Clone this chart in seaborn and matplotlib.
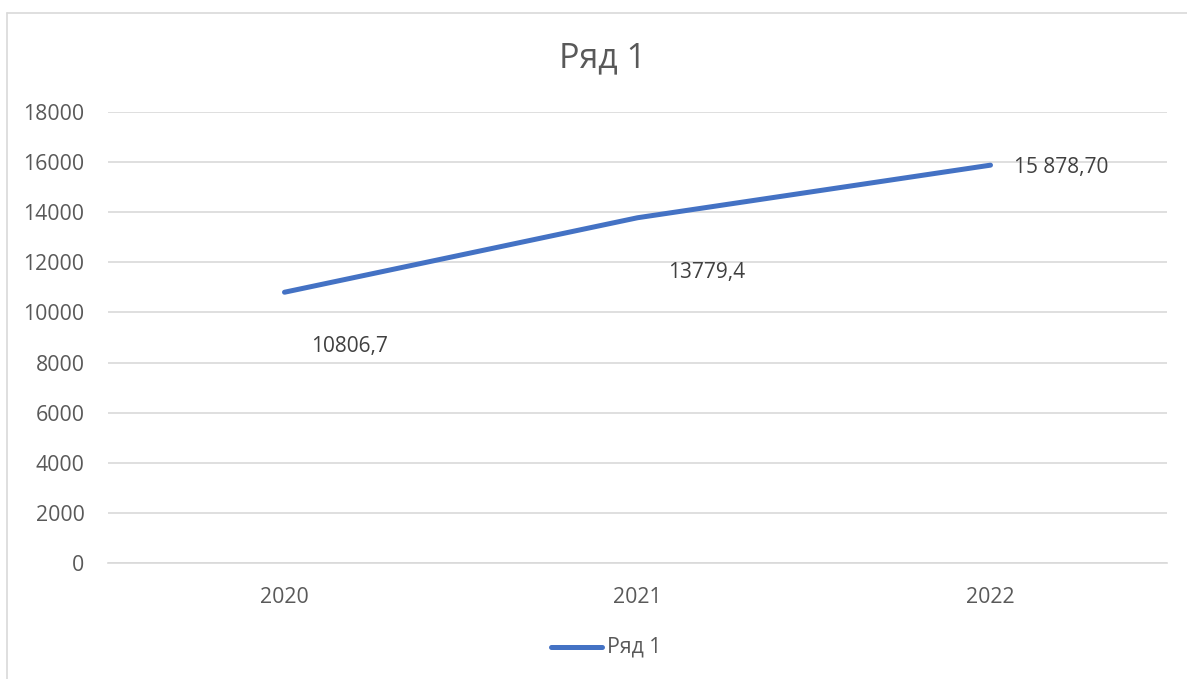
import numpy as np
import pandas as pd
import matplotlib.pyplot as plt
import seaborn as sns
from matplotlib.lines import Line2D

years = ["2020", "2021", "2022"]
values = [10806.7, 13779.4, 15878.7]
labels = ["10806,7", "13779,4", "15 878,70"]
series_name = "Ряд 1"

sns.set_theme(style="white")
plt.rcParams['font.family'] = ['Open Sans', 'DejaVu Sans']
text_col = '#595959'
grid_col = '#D9D9D9'
blue = '#4472C4'

df = pd.DataFrame({"year": np.arange(len(years)), "value": values, "series": series_name})

W, H = 1187, 679
fig = plt.figure(figsize=(W / 100, H / 100), dpi=100)
ax = fig.add_axes([108 / W, 1 - 563 / H, (1167 - 108) / W, (563 - 112) / H])

sns.lineplot(data=df, x="year", y="value", hue="series", palette=[blue],
             linewidth=3.6, ax=ax, legend=False, solid_capstyle='round')

ax.set_xlim(-0.5, len(years) - 0.5)
ax.set_ylim(0, 18000)
ax.set_yticks(np.arange(0, 18001, 2000))
ax.set_xticks(range(len(years)))
ax.set_xticklabels(years)
ax.yaxis.grid(True, color=grid_col, linewidth=1.2)
ax.set_axisbelow(True)
for s in ['left', 'right', 'top']:
    ax.spines[s].set_visible(False)
ax.spines['bottom'].set_color(grid_col)
ax.spines['bottom'].set_linewidth(1.2)
ax.tick_params(axis='both', length=0, labelsize=15.3, labelcolor=text_col)
ax.tick_params(axis='y', pad=17)
ax.tick_params(axis='x', pad=17)
ax.set_xlabel("")
ax.set_ylabel("")

# data labels
offsets = [(65, -54), (69, -55), (71, -2)]
for i, (v, lab) in enumerate(zip(values, labels)):
    dx, dy = offsets[i]
    ax.annotate(lab, (i, v), xytext=(dx, dy), textcoords='offset pixels',
                ha='center', va='center', fontsize=15, color='#404040')

fig.text(603 / W, 1 - 58 / H, series_name, ha='center', va='center',
         fontsize=24.5, color=text_col)

# legend
fig.add_artist(Line2D([551 / W, 602 / W], [1 - 647 / H, 1 - 647 / H],
                      color=blue, linewidth=3.6, solid_capstyle='round'))
fig.text(607 / W, 1 - 647 / H, series_name, ha='left', va='center',
         fontsize=15.3, color=text_col)

# chart frame (cropped on right/bottom)
fig.add_artist(Line2D([7 / W, 7 / W], [0, 1 - 13 / H], color=grid_col, linewidth=1.2))
fig.add_artist(Line2D([7 / W, 1], [1 - 13 / H, 1 - 13 / H], color=grid_col, linewidth=1.2))

fig.savefig("out.png", dpi=100)
